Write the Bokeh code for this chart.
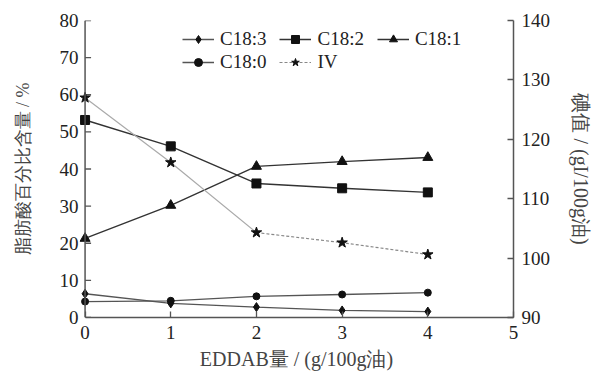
from bokeh.plotting import figure
from bokeh.models import Range1d, LinearAxis, Legend, LegendItem, FixedTicker, Span
from bokeh.embed import file_html
from bokeh.resources import INLINE

# ---- data ----
eddab = [0, 1, 2, 3, 4]
c183 = [6.4, 3.8, 2.8, 1.9, 1.6]
c182 = [53.2, 46.1, 36.1, 34.8, 33.7]
c181 = [21.3, 30.2, 40.7, 42.0, 43.1]
c180 = [4.3, 4.5, 5.7, 6.2, 6.7]
iv = [127.0, 116.1, 104.3, 102.6, 100.6]

x_ticks = [0, 1, 2, 3, 4, 5]
left_ticks = [0, 10, 20, 30, 40, 50, 60, 70, 80]
right_ticks = [90, 100, 110, 120, 130, 140]

x_label = "EDDAB量 / (g/100g油)"
left_label = "脂肪酸百分比含量 / %"
right_label = "碘值 / (gI/100g油)"

SERIF = "Liberation Serif"
FS = "19px"
TXT = "#222222"
AX = "#555555"
TICK_LEN = 0.07  # left-axis inward tick length, in x data units

p = figure(width=595, height=378, x_range=Range1d(-0.065, 5), y_range=Range1d(0, 80),
           output_backend="svg", toolbar_location=None,
           min_border_left=79, min_border_right=81, min_border_top=20, min_border_bottom=61,
           x_axis_label=x_label, y_axis_label=left_label)
p.outline_line_color = None
p.xgrid.grid_line_color = None
p.ygrid.grid_line_color = None
p.background_fill_color = "white"
p.border_fill_color = "white"

p.extra_y_ranges = {"iv": Range1d(90, 140)}

xa = p.below[0]
ya = p.left[0]
xa.ticker = FixedTicker(ticks=x_ticks)
ya.ticker = FixedTicker(ticks=left_ticks)
xa.bounds = (0, 5)

ra = LinearAxis(y_range_name="iv", ticker=FixedTicker(ticks=right_ticks), axis_label=right_label)
p.add_layout(ra, "right")

for ax in (xa, ya, ra):
    ax.major_tick_in = 6
    ax.major_tick_out = 0
    ax.minor_tick_line_color = None
    ax.axis_line_width = 1.5
    ax.axis_line_color = AX
    ax.major_tick_line_color = AX
    ax.major_tick_line_width = 1.3
    ax.major_label_text_font = SERIF
    ax.major_label_text_font_size = FS
    ax.major_label_text_color = TXT
    ax.axis_label_text_font = SERIF
    ax.axis_label_text_font_size = "18px"
    ax.axis_label_text_font_style = "normal"
    ax.axis_label_text_color = "#444444"

xa.axis_label_text_font_size = "20px"
ra.axis_label_text_font_size = "20px"

# left axis line + ticks drawn at x = 0 (frame starts a little left of 0)
ya.axis_line_color = None
ya.major_tick_line_color = None
ya.major_tick_in = 0
p.add_layout(Span(location=0, dimension="height", line_color=AX, line_width=1.5))
p.segment(x0=[0] * len(left_ticks), y0=left_ticks, x1=[TICK_LEN] * len(left_ticks),
          y1=left_ticks, line_color=AX, line_width=1.3)

xa.major_label_standoff = 8
xa.axis_label_standoff = 6
ya.major_label_standoff = 1
ya.axis_label_standoff = 24
ra.major_label_standoff = 8
ra.axis_label_standoff = 17

LC = "#333333"
l183 = p.line(eddab, c183, line_color="#555555", line_width=1.3)
s183 = p.scatter(eddab, c183, marker="diamond", size=9, color="#111111")
l182 = p.line(eddab, c182, line_color=LC, line_width=1.4)
s182 = p.scatter(eddab, c182, marker="square", size=9, color="#111111")
l181 = p.line(eddab, c181, line_color=LC, line_width=1.4)
s181 = p.scatter(eddab, c181, marker="triangle", size=10, color="#111111")
l180 = p.line(eddab, c180, line_color="#555555", line_width=1.3)
s180 = p.scatter(eddab, c180, marker="circle", size=7, color="#111111")

liv_a = p.line(eddab[:3], iv[:3], line_color="#aaaaaa", line_width=1.2, y_range_name="iv")
liv_b = p.line(eddab[2:], iv[2:], line_color="#888888", line_width=1.2, line_dash="3 2",
               y_range_name="iv")
siv = p.scatter(eddab, iv, marker="star", size=11, color="#111111", y_range_name="iv")


def mk_legend(items, loc):
    lg = Legend(items=items, location=loc, orientation="horizontal")
    lg.background_fill_alpha = 0
    lg.border_line_color = None
    lg.padding = 0
    lg.margin = 0
    lg.spacing = 13
    lg.glyph_width = 32
    lg.glyph_height = 20
    lg.label_height = 20
    lg.label_standoff = 6
    lg.label_text_font = SERIF
    lg.label_text_font_size = FS
    lg.label_text_color = TXT
    return lg


leg1 = mk_legend([LegendItem(label="C18:3", renderers=[l183, s183]),
                  LegendItem(label="C18:2", renderers=[l182, s182]),
                  LegendItem(label="C18:1", renderers=[l181, s181])], (103, 267))
leg2 = mk_legend([LegendItem(label="C18:0", renderers=[l180, s180]),
                  LegendItem(label="IV", renderers=[liv_b, siv])], (103, 244))
p.add_layout(leg1)
p.add_layout(leg2)

open("out.html", "w").write(file_html(p, INLINE))
